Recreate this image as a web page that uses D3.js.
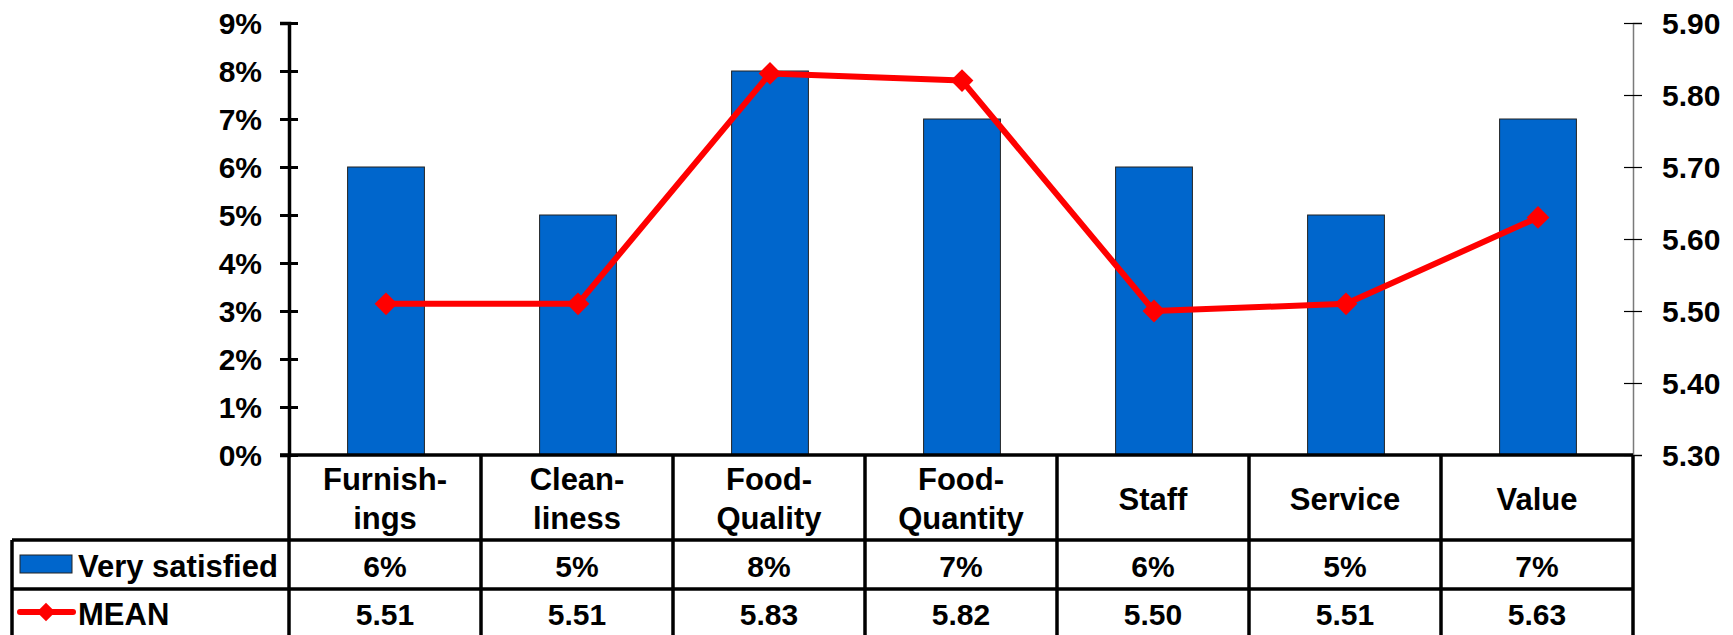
<!DOCTYPE html>
<html>
<head>
<meta charset="utf-8">
<script src="https://cdn.jsdelivr.net/npm/d3@7"></script>
<style>
  html, body { margin: 0; padding: 0; background: #fff; }
  svg { display: block; font-family: "Liberation Sans", Arial, sans-serif; font-weight: bold; }
</style>
</head>
<body>
<svg id="chart" width="1733" height="635"></svg>
<script>
// Satisfaction by category: share "very satisfied" (bars) and mean score (line)
const categories = ["Furnishings", "Cleanliness", "Food-Quality", "Food-Quantity", "Staff", "Service", "Value"];
const categoryLines = [["Furnish-", "ings"], ["Clean-", "liness"], ["Food-", "Quality"], ["Food-", "Quantity"], ["Staff"], ["Service"], ["Value"]];
const verySatisfied = [0.06, 0.05, 0.08, 0.07, 0.06, 0.05, 0.07];
const meanScores = [5.51, 5.51, 5.83, 5.82, 5.50, 5.51, 5.63];
const leftTicks = [0, 0.01, 0.02, 0.03, 0.04, 0.05, 0.06, 0.07, 0.08, 0.09];
const rightTicks = [5.30, 5.40, 5.50, 5.60, 5.70, 5.80, 5.90];
const seriesNames = ["Very satisfied", "MEAN"];

const BLUE = "#0066CC", RED = "#FF0000";
const svg = d3.select("#chart");

const plotLeft = 289, plotRight = 1633, plotTop = 23, plotBottom = 455;
const tableLeft = 12, rowCat = 540, rowBar = 589, tableBottom = 660;

const x = d3.scaleBand().domain(categories).range([plotLeft, plotRight]);
const yLeft = d3.scaleLinear().domain([0, 0.09]).range([plotBottom, plotTop]);
const yRight = d3.scaleLinear().domain([5.3, 5.9]).range([plotBottom, plotTop]);
const barW = x.bandwidth() * 0.4;

// Bars
svg.append("g").selectAll("rect")
  .data(categories)
  .join("rect")
  .attr("x", (c) => x(c) + (x.bandwidth() - barW) / 2 + 1)
  .attr("y", (c, i) => yLeft(verySatisfied[i]))
  .attr("width", barW)
  .attr("height", (c, i) => plotBottom - yLeft(verySatisfied[i]))
  .attr("fill", BLUE)
  .attr("stroke", "#222")
  .attr("stroke-width", 1);

// Left axis (percent)
const gL = svg.append("g")
  .attr("transform", `translate(${plotLeft},0)`)
  .call(d3.axisLeft(yLeft).tickValues(leftTicks).tickFormat(d3.format(".0%")).tickSize(9).tickPadding(18));
gL.select(".domain").attr("stroke", "#000").attr("stroke-width", 3.5);
gL.selectAll(".tick line").attr("x1", -9).attr("x2", 9).attr("stroke", "#000").attr("stroke-width", 3);
gL.selectAll(".tick text").attr("font-size", 30).attr("fill", "#000").attr("dy", "0.36em");

// Right axis (mean score)
const gR = svg.append("g")
  .attr("transform", `translate(${plotRight},0)`)
  .call(d3.axisRight(yRight).tickValues(rightTicks).tickFormat(d3.format(".2f")).tickSize(9).tickPadding(20));
gR.select(".domain").attr("stroke", "#7a7a7a").attr("stroke-width", 1.5);
gR.selectAll(".tick line").attr("x1", -9).attr("x2", 9).attr("stroke", "#000").attr("stroke-width", 1.2);
gR.selectAll(".tick text").attr("font-size", 30).attr("fill", "#000").attr("dy", "0.36em");

// Mean line with diamond markers
const cx = (c) => x(c) + x.bandwidth() / 2 + 1;
svg.append("path")
  .datum(categories)
  .attr("fill", "none")
  .attr("stroke", RED)
  .attr("stroke-width", 6)
  .attr("stroke-linejoin", "round")
  .attr("d", d3.line().x((c) => cx(c)).y((c, i) => yRight(meanScores[i])));

const diamond = d3.symbol().type(d3.symbolSquare).size(260);
svg.append("g").selectAll("path")
  .data(categories)
  .join("path")
  .attr("d", diamond)
  .attr("fill", RED)
  .attr("transform", (c, i) => `translate(${cx(c)},${yRight(meanScores[i])}) rotate(45)`);

// Data table under the plot
const table = svg.append("g").attr("stroke", "#000").attr("stroke-width", 3.5).attr("fill", "none");
table.append("line").attr("x1", plotLeft - 9).attr("x2", plotRight).attr("y1", plotBottom).attr("y2", plotBottom);
table.append("line").attr("x1", tableLeft).attr("x2", plotRight).attr("y1", rowCat).attr("y2", rowCat);
table.append("line").attr("x1", tableLeft).attr("x2", plotRight).attr("y1", rowBar).attr("y2", rowBar);
table.append("line").attr("x1", tableLeft).attr("x2", tableLeft).attr("y1", rowCat).attr("y2", tableBottom);
table.append("line").attr("x1", plotLeft).attr("x2", plotLeft).attr("y1", plotBottom).attr("y2", tableBottom);
table.selectAll(".sep")
  .data(categories)
  .join("line")
  .attr("x1", (c) => x(c) + x.bandwidth())
  .attr("x2", (c) => x(c) + x.bandwidth())
  .attr("y1", plotBottom).attr("y2", tableBottom);

// Category labels
const catText = svg.append("g").attr("font-size", 31).attr("text-anchor", "middle").attr("fill", "#000");
catText.selectAll("text")
  .data(categories)
  .join("text")
  .attr("x", (c) => x(c) + x.bandwidth() / 2)
  .each(function (c, i) {
    const lines = categoryLines[i];
    const t = d3.select(this);
    const base = lines.length === 2 ? 490 : 510;
    lines.forEach((ln, k) => t.append("tspan").attr("x", x(c) + x.bandwidth() / 2).attr("y", base + k * 39).text(ln));
  });

// Value rows
const valText = svg.append("g").attr("font-size", 30).attr("text-anchor", "middle").attr("fill", "#000");
valText.selectAll(".pct")
  .data(categories)
  .join("text")
  .attr("class", "pct")
  .attr("x", (c) => x(c) + x.bandwidth() / 2)
  .attr("y", 577)
  .text((c, i) => d3.format(".0%")(verySatisfied[i]));
valText.selectAll(".mean")
  .data(categories)
  .join("text")
  .attr("class", "mean")
  .attr("x", (c) => x(c) + x.bandwidth() / 2)
  .attr("y", 625)
  .text((c, i) => d3.format(".2f")(meanScores[i]));

// Legend keys in the table's first column
svg.append("rect").attr("x", 20).attr("y", 555).attr("width", 52).attr("height", 18)
  .attr("fill", BLUE).attr("stroke", "#222").attr("stroke-width", 1);
svg.append("line").attr("x1", 20).attr("x2", 73).attr("y1", 612).attr("y2", 612)
  .attr("stroke", RED).attr("stroke-width", 6).attr("stroke-linecap", "round");
svg.append("path").attr("d", d3.symbol().type(d3.symbolSquare).size(170))
  .attr("fill", RED).attr("transform", "translate(46,612) rotate(45)");
svg.append("text").attr("x", 78).attr("y", 577).attr("font-size", 31).attr("fill", "#000").text(seriesNames[0]);
svg.append("text").attr("x", 78).attr("y", 625).attr("font-size", 31).attr("fill", "#000").text(seriesNames[1]);
</script>
</body>
</html>
